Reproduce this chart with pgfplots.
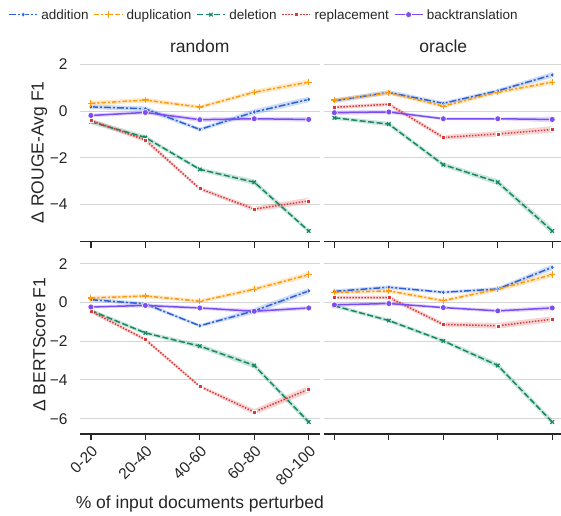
\documentclass[border=0pt]{standalone}
\usepackage{fontspec}
\setmainfont{Liberation Sans}
\usepackage{pgfplots}
\pgfplotsset{compat=1.18}
\usepackage{pgfplotstable}
\usepgfplotslibrary{fillbetween}

\definecolor{cadd}{HTML}{2B62D9}
\definecolor{cdup}{HTML}{FF9A0A}
\definecolor{cdel}{HTML}{138A64}
\definecolor{crep}{HTML}{D83A3A}
\definecolor{cbt}{HTML}{7C4DF2}
\definecolor{txt}{HTML}{262626}
\definecolor{gridc}{HTML}{D4D4D4}

% random, ROUGE
\pgfplotstableread{
x add adde dup dupe del dele rep repe bt bte
0 0.18 0.10 0.33 0.10 -0.46 0.10 -0.40 0.08 -0.19 0.08
1 0.10 0.10 0.47 0.10 -1.13 0.10 -1.24 0.10 -0.06 0.08
2 -0.79 0.08 0.17 0.08 -2.50 0.08 -3.33 0.08 -0.37 0.10
3 -0.04 0.12 0.81 0.10 -3.05 0.12 -4.20 0.10 -0.33 0.08
4 0.50 0.12 1.24 0.12 -5.14 0.10 -3.85 0.14 -0.36 0.10
}\tRR
% oracle, ROUGE
\pgfplotstableread{
x add adde dup dupe del dele rep repe bt bte
0 0.44 0.10 0.47 0.08 -0.29 0.08 0.16 0.08 -0.07 0.10
1 0.80 0.10 0.78 0.08 -0.56 0.10 0.29 0.08 -0.04 0.08
2 0.33 0.08 0.21 0.08 -2.30 0.10 -1.13 0.10 -0.33 0.06
3 0.87 0.08 0.81 0.08 -3.05 0.12 -0.98 0.12 -0.33 0.06
4 1.55 0.12 1.24 0.12 -5.14 0.15 -0.79 0.14 -0.36 0.12
}\tOR
% random, BERTScore
\pgfplotstableread{
x add adde dup dupe del dele rep repe bt bte
0 0.15 0.10 0.24 0.10 -0.41 0.10 -0.45 0.10 -0.23 0.08
1 -0.07 0.10 0.34 0.10 -1.57 0.10 -1.91 0.10 -0.15 0.10
2 -1.20 0.08 0.07 0.10 -2.25 0.12 -4.33 0.08 -0.28 0.08
3 -0.43 0.15 0.69 0.12 -3.25 0.15 -5.65 0.15 -0.45 0.12
4 0.60 0.15 1.44 0.15 -6.17 0.15 -4.48 0.18 -0.28 0.10
}\tRB
% oracle, BERTScore
\pgfplotstableread{
x add adde dup dupe del dele rep repe bt bte
0 0.58 0.10 0.52 0.10 -0.17 0.10 0.26 0.10 -0.12 0.10
1 0.79 0.10 0.60 0.10 -0.93 0.10 0.26 0.10 -0.05 0.10
2 0.53 0.08 0.10 0.10 -1.98 0.10 -1.13 0.12 -0.26 0.08
3 0.70 0.10 0.69 0.12 -3.25 0.15 -1.20 0.15 -0.43 0.10
4 1.82 0.15 1.44 0.15 -6.17 0.15 -0.86 0.15 -0.28 0.12
}\tOB

\newcommand{\band}[3]{%
  \addplot[draw=none, forget plot, name path=U#1] table[x=x, y expr=\thisrow{#1}+\thisrow{#1e}] {#2};
  \addplot[draw=none, forget plot, name path=L#1] table[x=x, y expr=\thisrow{#1}-\thisrow{#1e}] {#2};
  \addplot[fill=#3, fill opacity=0.22, draw=none, forget plot] fill between[of=U#1 and L#1];
}
\newcommand{\series}[1]{%
  \band{add}{#1}{cadd}\band{dup}{#1}{cdup}\band{del}{#1}{cdel}\band{rep}{#1}{crep}\band{bt}{#1}{cbt}
  \addplot[sadd] table[x=x, y=add] {#1};
  \addplot[sdup] table[x=x, y=dup] {#1};
  \addplot[sdel] table[x=x, y=del] {#1};
  \addplot[srep] table[x=x, y=rep] {#1};
  \addplot[sbt] table[x=x, y=bt] {#1};
}

\pgfplotsset{
  panel/.style={
    scale only axis, width=239.6pt, height=178.7pt,
    xmin=-0.2, xmax=4.2, xtick={0,1,2,3,4},
    axis x line*=bottom, axis y line*=left,
    y axis line style={draw=none},
    x axis line style={txt, line width=1.25pt},
    tick align=outside, major tick length=6pt,
    xtick style={txt, line width=1.25pt},
    ytick style={draw=none},
    ymajorgrids, grid style={gridc, line width=1pt},
    tick label style={txt, font=\fontsize{15.5}{18}\selectfont},
    yticklabel style={xshift=-3pt},
    label style={txt, font=\fontsize{17.5}{20}\selectfont},
    ylabel style={at={(axis description cs:-0.17,0.5)}, anchor=center},
    title style={at={(0.5,1.027)}, anchor=base, text=txt, font=\fontsize{17.5}{20}\selectfont},
  },
  toprow/.style={ymin=-5.6, ymax=2.06, ytick={-4,-2,0,2}, xticklabels={}},
  botrow/.style={ymin=-6.79, ymax=2.44, ytick={-6,-4,-2,0,2}},
  sadd/.style={cadd, line width=1.5pt, dash pattern=on 7pt off 2pt on 2pt off 2pt, mark=diamond*, mark size=2.6pt, mark options={solid, fill=cadd, draw=white, line width=0.5pt}},
  sdup/.style={cdup, line width=1.5pt, dash pattern=on 4.5pt off 2pt on 2pt off 2pt, mark=+, mark size=3.2pt, mark options={solid, line width=1.2pt}},
  sdel/.style={cdel, line width=1.5pt, dash pattern=on 6pt off 2.5pt, mark=x, mark size=2.5pt, mark options={solid, line width=1.2pt}},
  srep/.style={crep, line width=1.5pt, dash pattern=on 1.5pt off 1.5pt, mark=square*, mark size=2pt, mark options={solid, fill=crep, draw=white, line width=0.5pt}},
  sbt/.style={cbt, line width=1.5pt, mark=*, mark size=3pt, mark options={solid, fill=cbt, draw=white, line width=0.6pt}},
}

\begin{document}
\begin{tikzpicture}

% top left
\begin{axis}[panel, toprow, at={(80pt,273.3pt)}, anchor=south west,
  title={random}, ylabel={Δ ROUGE-Avg F1},
  yticklabels={−4,−2,0,2},
  legend columns=5,
  legend style={at={(0.764,1.2686)}, anchor=center, draw=none, fill=none,
    font=\fontsize{13.5}{16}\selectfont, text=txt,
    nodes={inner sep=0pt, anchor=base west},
    /tikz/every odd column/.append style={column sep=3.5pt},
    /tikz/every even column/.append style={column sep=5pt}},
  legend image code/.code={\draw[mark repeat=2, mark phase=2, #1] plot coordinates {(0pt,4.5pt) (14pt,4.5pt) (28pt,4.5pt)};},
  legend entries={addition, duplication, deletion, replacement, backtranslation},
]
\series{\tRR}
\end{axis}

% top right
\begin{axis}[panel, toprow, at={(323.5pt,273.3pt)}, anchor=south west,
  title={oracle}, yticklabels={}]
\series{\tOR}
\end{axis}

% bottom left
\begin{axis}[panel, botrow, at={(80pt,81pt)}, anchor=south west,
  ylabel={Δ BERTScore F1},
  yticklabels={−6,−4,−2,0,2},
  xticklabels={0-20,20-40,40-60,60-80,80-100},
  xticklabel style={rotate=45, anchor=north east},
  xlabel={\% of input documents perturbed},
  xlabel style={at={(axis description cs:0.5,-0.39)}, anchor=center},
]
\series{\tRB}
\end{axis}

% bottom right
\begin{axis}[panel, botrow, at={(323.5pt,81pt)}, anchor=south west,
  yticklabels={}, xticklabels={}]
\series{\tOB}
\end{axis}

\pgfresetboundingbox
\path[use as bounding box] (0,0) rectangle (561pt,515pt);
\end{tikzpicture}
\end{document}
